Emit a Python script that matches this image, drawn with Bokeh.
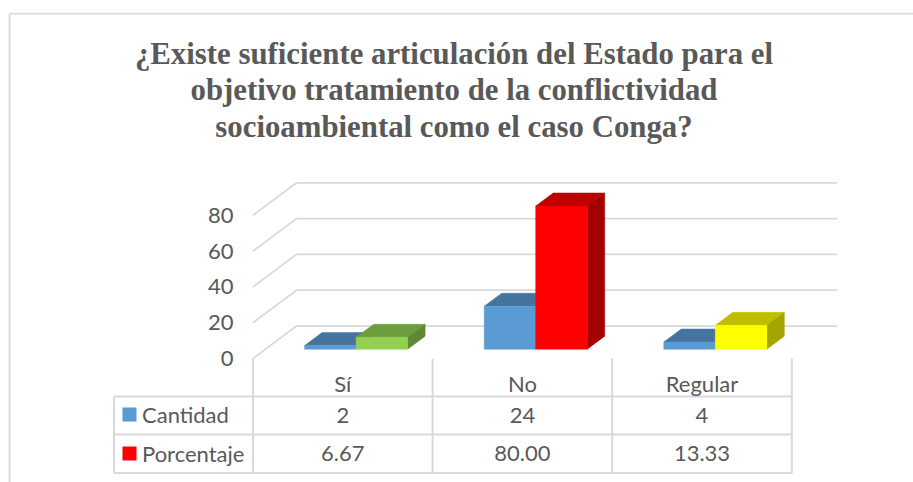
from bokeh.plotting import figure
from bokeh.models import Range1d, FixedTicker
from bokeh.core.properties import value
from bokeh.embed import file_html
from bokeh.resources import INLINE

categories = ["Sí", "No", "Regular"]
series_names = ["Cantidad", "Porcentaje"]
cantidad = [2, 24, 4]
porcentaje = [6.67, 80.00, 13.33]
cantidad_labels = ["2", "24", "4"]
porcentaje_labels = ["6.67", "80.00", "13.33"]
y_ticks = [0, 20, 40, 60, 80]
title_text = "¿Existe suficiente articulación del Estado para el\nobjetivo tratamiento de la conflictividad\nsocioambiental como el caso Conga?"

front_colors = [["#5B9BD5"] * 3, ["#92D050", "#FF0000", "#FFFF00"]]
top_colors = [["#44749F"] * 3, ["#6D9C3C", "#BF0000", "#BFBF00"]]
side_colors = [["#3A648A"] * 3, ["#5F8834", "#A50000", "#A5A500"]]

W, H = 913, 482
PX_PER_UNIT = 1.79
Y0 = 358.0          # picture y of value 0 on the front of the axis
X0 = 252.5          # picture x of the left side of the axis
CAT_W = 179.6


def X(px):
    return (px - X0) / CAT_W


def Y(py):
    return (Y0 - py) / PX_PER_UNIT


p = figure(width=W, height=H, output_backend="svg", toolbar_location=None,
           x_range=Range1d(X(0), X(W)), y_range=Range1d(Y(H), Y(0)),
           min_border_left=0, min_border_right=0, min_border_top=0, min_border_bottom=0)
p.xaxis.visible = False
p.xgrid.visible = False
p.ygrid.visible = False
p.outline_line_color = None
p.background_fill_color = "white"

GRID = "#D9D9D9"
TXT = "#595959"
SANS = value("Lato")

# chart frame
p.line([X(9), X(9)], [Y(13), Y(H)], line_color=GRID, line_width=1.75)
p.line([X(9), X(W)], [Y(13), Y(13)], line_color=GRID, line_width=1.75)

# walls
gdx, gdy = 43.5 / CAT_W, 32.5 / PX_PER_UNIT
for t in y_ticks:
    p.line([0, gdx, X(836.5)], [t, t + gdy, t + gdy], line_color=GRID, line_width=1.75)

# bars
bar_w = 51.5 / CAT_W
shift_x, shift_y = 13.3 / CAT_W, 9.3 / PX_PER_UNIT
dx, dy = 17.5 / CAT_W, 13.0 / PX_PER_UNIT
for i, vals in enumerate(zip(cantidad, porcentaje)):
    for s, v in enumerate(vals):
        x1 = i + 0.5 + shift_x + (s - 1) * bar_w
        x2 = x1 + bar_w
        b, t = shift_y, shift_y + v
        p.patch([x1 + dx, x2 + dx, x2, x1], [t + dy, t + dy, t, t], fill_color=top_colors[s][i], line_color=top_colors[s][i], line_width=0.5)
        p.patch([x2, x2 + dx, x2 + dx, x2], [b, b + dy, t + dy, t], fill_color=side_colors[s][i], line_color=side_colors[s][i], line_width=0.5)
        p.quad(left=x1, right=x2, bottom=b, top=t, fill_color=front_colors[s][i], line_color=front_colors[s][i], line_width=0.5)

# data table
rows = [396.0, 434.0, 472.5]
for r in rows:
    p.line([X(113.5), X(792)], [Y(r), Y(r)], line_color=GRID, line_width=2)
for i in range(4):
    p.line([i, i], [0, Y(472.5)], line_color=GRID, line_width=2)
p.line([X(113.5), X(113.5)], [Y(396), Y(472.5)], line_color=GRID, line_width=2)

centers = [i + 0.5 for i in range(3)]
text_kw = dict(text_color=TXT, text_font=SANS, text_font_size="22px", text_align="center", text_baseline="middle")
p.text(centers, [Y(382.5)] * 3, text=categories, **text_kw)
p.text(centers, [Y(414.5)] * 3, text=cantidad_labels, **text_kw)
p.text(centers, [Y(452.5)] * 3, text=porcentaje_labels, **text_kw)

# legend keys of the table
for r, name, col in zip([414.0, 453.0], series_names, ["#5B9BD5", "#FF0000"]):
    p.quad(left=X(122), right=X(136), bottom=Y(r + 7), top=Y(r - 7), fill_color=col, line_color=None)
    p.text([X(141.5)], [Y(r)], text=[name], text_color=TXT, text_font=SANS, text_font_size="22px",
           text_align="left", text_baseline="middle")

# title
p.text([X(453.5)], [Y(90)], text=[title_text], text_color=TXT, text_font=value("Liberation Serif"),
       text_font_style="bold", text_font_size="30.8px", text_align="center", text_baseline="middle",
       text_line_height=1.08)

# value axis: labels moved into the plot, left of the chart walls
ax = p.yaxis[0]
ax.ticker = FixedTicker(ticks=y_ticks)
ax.axis_line_color = None
ax.major_tick_line_color = None
ax.minor_tick_line_color = None
ax.major_label_standoff = -239
ax.major_label_text_color = TXT
ax.major_label_text_font = "Lato"
ax.major_label_text_font_size = "22px"

open("out.html", "w").write(file_html(p, INLINE))
